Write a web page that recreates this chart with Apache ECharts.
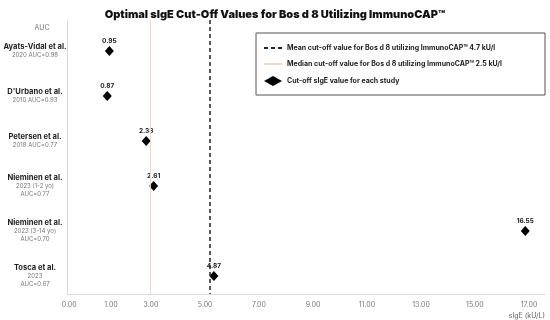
<!DOCTYPE html>
<html>
<head>
<meta charset="utf-8">
<script src="https://cdn.jsdelivr.net/npm/echarts@6/dist/echarts.min.js"></script>
<style>html,body{margin:0;padding:0;background:#fff}#c{width:550px;height:320px}</style>
</head>
<body>
<div id="c"></div>
<script>
const studies = ['Ayats-Vidal et al.', "D'Urbano et al.", 'Petersen et al.', 'Nieminen et al.', 'Nieminen et al.', 'Tosca et al.'];
const studyDetails = ['2020 AUC=0.98', '2010 AUC=0.93', '2018 AUC=0.77', '2023 (1-2 yo)\nAUC=0.77', '2023 (3-14 yo)\nAUC=0.70', '2023\nAUC=0.67'];
const cutoffValues = [0.95, 0.87, 2.33, 2.61, 16.55, 4.87];
const meanCutoff = 4.7;
const medianCutoff = 2.5;
const xTickValues = [-0.56, 1.01, 2.51, 4.54, 6.56, 8.59, 10.61, 12.64, 14.66, 16.69];
const xTickLabels = ['0.00', '1.00', '3.00', '5.00', '7.00', '9.00', '11.00', '13.00', '15.00', '17.00'];
const legendNames = [
  'Mean cut-off value for Bos d 8 utilizing ImmunoCAP\u2122 4.7 kU/l',
  'Median cut-off value for Bos d 8 utilizing ImmunoCAP\u2122 2.5 kU/l',
  'Cut-off sIgE value for each study'
];

const FONT = 'Inter, "Noto Sans", sans-serif';
const MEDIAN_COLOR = '#f6d6bd';
const chart = echarts.init(document.getElementById('c'));
const rowIdx = studies.map((s, i) => i);
const scatterData = cutoffValues.map((v, i) => [v, i]);

function rowLabel(v) {
  const lines = studyDetails[v].split('\n');
  return '{n|' + studies[v] + '}\n' + lines.map(t => '{d|' + t + '}').join('\n') + '\n{e| }';
}

chart.setOption({
  animation: false,
  textStyle: { fontFamily: FONT },
  title: {
    text: 'Optimal sIgE Cut-Off Values for Bos d 8 Utilizing ImmunoCAP\u2122',
    left: 'center', top: 4,
    textStyle: { fontSize: 11, fontWeight: 900, color: '#111', fontFamily: FONT }
  },
  grid: { left: 67, right: 5, top: 20, bottom: 26 },
  graphic: [
    { type: 'rect', shape: { x: 256, y: 33, width: 289, height: 62 }, style: { fill: '#fff', stroke: '#555', lineWidth: 1 }, z: 0 },
    { type: 'text', x: 42, y: 28, style: { text: 'AUC', fill: '#777', fontSize: 7, fontFamily: FONT, align: 'center', verticalAlign: 'middle' } }
  ],
  legend: {
    orient: 'vertical', left: 258, top: 39,
    itemWidth: 18, itemHeight: 10, itemGap: 8,
    textStyle: { fontSize: 7, fontWeight: 'bold', color: '#222', fontFamily: FONT },
    data: [
      { name: legendNames[0], itemStyle: { opacity: 0 } },
      { name: legendNames[1], itemStyle: { opacity: 0 } },
      { name: legendNames[2] }
    ]
  },
  xAxis: {
    type: 'value', min: -0.64, max: 17.29,
    splitLine: { show: false },
    axisTick: { show: false },
    axisLine: { onZero: false, lineStyle: { color: '#ddd' } },
    axisLabel: {
      customValues: xTickValues,
      formatter: v => xTickLabels[xTickValues.indexOf(v)],
      fontSize: 7, color: '#777', margin: 7
    },
    name: 'sIgE (kU/L)', nameLocation: 'end', nameGap: 0,
    nameTextStyle: { align: 'right', verticalAlign: 'top', padding: [18, 0, 0, 0], fontSize: 7, color: '#666' }
  },
  yAxis: {
    type: 'value', inverse: true, min: -0.69, max: 5.4,
    splitLine: { show: false },
    axisTick: { show: false },
    axisLine: { show: true, onZero: false, lineStyle: { color: '#ddd' } },
    axisLabel: {
      customValues: rowIdx,
      align: 'center', margin: 32,
      formatter: rowLabel,
      rich: {
        n: { fontSize: 7.6, fontWeight: 'bold', color: '#222', lineHeight: 8.5, fontFamily: FONT },
        d: { fontSize: 6, color: '#777', lineHeight: 8, fontFamily: FONT },
        e: { fontSize: 1, lineHeight: 1, fontFamily: FONT }
      }
    }
  },
  series: [
    {
      name: legendNames[0], type: 'line', data: [], symbol: 'none',
      lineStyle: { color: '#222', width: 1.5, type: [4, 3] },
      itemStyle: { color: '#222' },
      markLine: {
        silent: true, symbol: ['none', 'none'], label: { show: false },
        lineStyle: { color: '#222', width: 1.5, type: [4, 3] },
        data: [{ xAxis: meanCutoff }]
      }
    },
    {
      name: legendNames[1], type: 'line', data: [], symbol: 'none',
      lineStyle: { color: MEDIAN_COLOR, width: 1 },
      itemStyle: { color: MEDIAN_COLOR },
      markLine: {
        silent: true, symbol: ['none', 'none'], label: { show: false },
        lineStyle: { color: MEDIAN_COLOR, width: 1, type: 'solid' },
        data: [{ xAxis: medianCutoff }]
      }
    },
    {
      name: legendNames[2], type: 'scatter', data: scatterData,
      symbol: 'diamond', symbolSize: [9, 10],
      itemStyle: { color: '#000', opacity: 1 },
      label: {
        show: true, position: 'top', distance: 1,
        formatter: p => p.value[0].toFixed(2),
        fontSize: 6.5, fontWeight: 'bold', color: '#222', fontFamily: FONT
      }
    }
  ]
});
</script>
</body>
</html>
